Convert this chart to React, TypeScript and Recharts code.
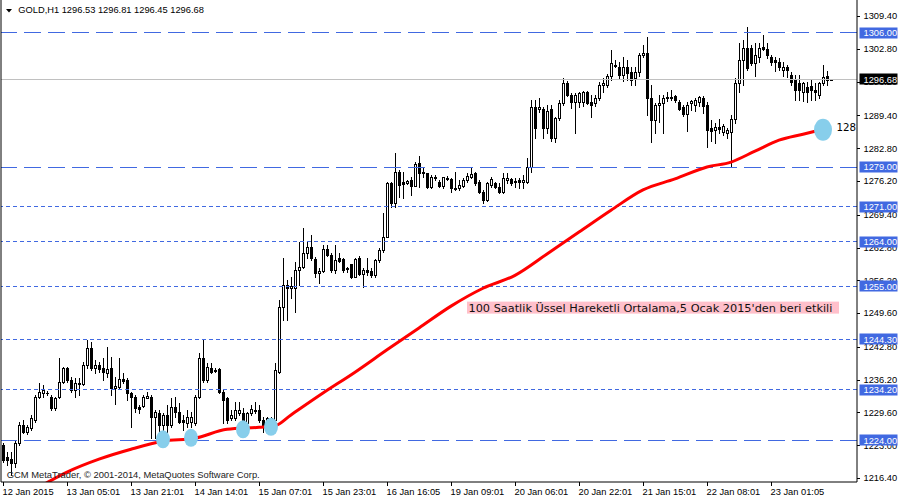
import { ComposedChart, Bar, Line, XAxis, YAxis, ReferenceLine, ReferenceDot } from 'recharts';

// GOLD H1 candles (oldest first)
const opens = [
  1223.0, 1220.6, 1220.3, 1219.4, 1223.4, 1227.1, 1225.6, 1226.5, 1228.1, 1232.7,
  1233.5, 1233.5, 1232.7, 1230.5, 1232.7, 1235.7, 1238.5, 1236.1, 1234.1, 1235.5,
  1235.3, 1239.1, 1242.6, 1238.5, 1239.1, 1238.5, 1237.5, 1238.5, 1234.5, 1234.7,
  1236.3, 1236.1, 1233.5, 1232.7, 1230.7, 1230.9, 1232.5, 1232.7, 1228.7, 1229.5,
  1227.1, 1229.1, 1227.1, 1230.7, 1229.7, 1228.1, 1227.5, 1227.7, 1227.5, 1232.7,
  1240.5, 1236.1, 1238.5, 1238.1, 1238.3, 1233.7, 1232.5, 1228.5, 1228.5, 1229.5,
  1229.5, 1227.5, 1229.5, 1230.1, 1230.1, 1228.1, 1227.5, 1227.7, 1228.1, 1237.7,
  1250.8, 1255.2, 1254.6, 1254.6, 1258.3, 1258.9, 1261.7, 1262.9, 1260.5, 1257.7,
  1258.1, 1262.5, 1261.3, 1258.3, 1260.7, 1260.5, 1258.7, 1259.5, 1256.9, 1260.7,
  1257.5, 1258.3, 1258.1, 1257.3, 1260.3, 1262.3, 1264.9, 1275.8, 1271.8, 1278.0,
  1276.0, 1275.8, 1276.4, 1275.2, 1279.8, 1278.0, 1277.8, 1275.0, 1277.0, 1276.0,
  1275.2, 1276.8, 1276.6, 1274.8, 1274.8, 1275.2, 1276.4, 1277.0, 1277.8, 1276.0,
  1274.0, 1272.4, 1275.4, 1275.8, 1275.0, 1274.0, 1276.4, 1276.6, 1276.2, 1276.4,
  1276.0, 1276.0, 1279.0, 1291.1, 1290.7, 1290.7, 1286.9, 1290.7, 1284.8, 1288.9,
  1291.9, 1295.9, 1293.5, 1292.1, 1292.1, 1292.1, 1294.1, 1292.1, 1291.9, 1292.9,
  1295.5, 1295.5, 1297.3, 1299.5, 1299.1, 1297.5, 1299.1, 1298.1, 1296.9, 1298.1,
  1301.5, 1301.9, 1292.9, 1288.5, 1291.5, 1291.9, 1292.9, 1293.1, 1293.3, 1292.1,
  1291.1, 1289.7, 1291.9, 1291.5, 1292.1, 1292.9, 1291.5, 1286.9, 1286.5, 1287.0,
  1286.1, 1285.8, 1286.1, 1288.7, 1295.9, 1300.5, 1303.0, 1303.0, 1299.9, 1301.1,
  1303.2, 1302.8, 1301.1, 1300.5, 1300.1, 1298.5, 1299.1, 1297.5, 1296.5, 1295.9,
  1294.1, 1295.1, 1295.3, 1294.5, 1293.5, 1295.9, 1297.3, 1296.53,
];

const highs = [
  1223.4, 1221.6, 1221.6, 1224.0, 1227.7, 1228.1, 1227.1, 1229.1, 1233.1, 1235.5,
  1235.1, 1233.9, 1233.1, 1232.7, 1240.5, 1238.7, 1238.7, 1236.7, 1236.5, 1236.5,
  1239.7, 1244.2, 1243.8, 1240.1, 1239.7, 1240.5, 1242.8, 1240.7, 1236.7, 1240.5,
  1237.5, 1236.5, 1233.7, 1233.1, 1231.1, 1233.1, 1233.7, 1233.1, 1230.1, 1230.1,
  1229.5, 1231.1, 1232.5, 1232.7, 1231.5, 1229.1, 1230.1, 1229.7, 1233.1, 1241.5,
  1244.2, 1239.5, 1239.5, 1238.5, 1238.5, 1234.1, 1232.7, 1230.1, 1231.7, 1231.7,
  1230.5, 1229.7, 1231.1, 1231.7, 1231.1, 1228.7, 1228.7, 1228.7, 1239.5, 1252.2,
  1260.7, 1256.2, 1256.9, 1259.9, 1263.9, 1266.7, 1263.9, 1265.3, 1260.9, 1258.7,
  1263.3, 1263.3, 1261.7, 1263.3, 1261.7, 1260.7, 1258.9, 1259.5, 1260.7, 1261.1,
  1258.7, 1260.7, 1258.7, 1260.5, 1262.7, 1269.7, 1276.0, 1276.0, 1281.8, 1278.4,
  1278.0, 1276.4, 1277.0, 1280.0, 1281.2, 1278.8, 1277.8, 1277.4, 1277.4, 1276.4,
  1277.0, 1277.2, 1276.8, 1278.0, 1276.4, 1276.8, 1277.8, 1278.8, 1278.0, 1276.4,
  1274.4, 1276.0, 1277.0, 1276.0, 1275.8, 1277.8, 1277.8, 1276.8, 1276.8, 1276.8,
  1277.4, 1280.8, 1292.5, 1292.5, 1292.9, 1291.1, 1291.5, 1291.5, 1289.1, 1292.5,
  1296.9, 1296.3, 1293.9, 1293.9, 1294.1, 1294.3, 1294.3, 1293.5, 1293.5, 1296.1,
  1296.9, 1297.7, 1302.6, 1300.5, 1300.1, 1301.1, 1300.5, 1299.1, 1299.1, 1301.9,
  1303.6, 1305.2, 1295.5, 1291.9, 1293.5, 1293.5, 1294.1, 1294.5, 1293.5, 1292.5,
  1291.5, 1292.1, 1292.5, 1292.9, 1293.3, 1293.3, 1292.1, 1288.5, 1287.9, 1288.7,
  1287.7, 1286.9, 1289.5, 1296.9, 1304.0, 1304.6, 1307.2, 1303.6, 1304.0, 1304.0,
  1305.6, 1304.0, 1301.5, 1301.1, 1300.9, 1300.1, 1299.5, 1298.1, 1297.5, 1297.5,
  1296.1, 1296.1, 1296.5, 1295.9, 1296.1, 1299.5, 1298.3, 1296.81,
];

const lows = [
  1219.6, 1219.0, 1217.0, 1218.6, 1223.0, 1225.4, 1225.2, 1226.0, 1227.7, 1232.5,
  1232.7, 1233.1, 1230.1, 1230.1, 1232.5, 1235.5, 1235.7, 1233.7, 1232.7, 1233.1,
  1235.1, 1238.5, 1238.1, 1237.5, 1237.7, 1236.1, 1236.7, 1233.1, 1231.3, 1234.5,
  1235.5, 1232.1, 1226.7, 1229.7, 1229.5, 1230.7, 1232.5, 1224.4, 1224.4, 1225.4,
  1225.4, 1225.0, 1226.7, 1228.7, 1227.5, 1226.0, 1226.7, 1226.7, 1227.1, 1232.5,
  1235.7, 1235.7, 1237.5, 1237.7, 1233.5, 1227.5, 1227.5, 1228.1, 1228.1, 1229.1,
  1226.5, 1227.1, 1229.1, 1229.5, 1227.7, 1225.6, 1226.0, 1226.7, 1227.7, 1237.5,
  1248.2, 1248.2, 1252.6, 1249.8, 1255.2, 1258.7, 1260.7, 1260.3, 1256.9, 1255.6,
  1257.9, 1261.1, 1257.9, 1257.7, 1259.9, 1257.9, 1257.9, 1256.7, 1256.9, 1257.3,
  1254.8, 1257.3, 1256.9, 1256.9, 1259.9, 1261.9, 1264.9, 1271.0, 1271.0, 1273.0,
  1272.8, 1275.6, 1273.3, 1275.2, 1275.0, 1277.0, 1274.8, 1274.8, 1276.4, 1275.0,
  1274.8, 1276.4, 1274.0, 1274.4, 1274.4, 1275.0, 1276.0, 1276.8, 1275.4, 1273.8,
  1271.8, 1272.2, 1275.0, 1274.8, 1273.8, 1273.8, 1275.8, 1275.4, 1275.0, 1274.8,
  1274.8, 1275.8, 1278.0, 1284.8, 1290.1, 1284.8, 1285.8, 1284.2, 1284.0, 1288.5,
  1291.5, 1293.3, 1290.9, 1285.8, 1291.1, 1291.3, 1291.7, 1289.1, 1291.3, 1292.5,
  1294.1, 1295.1, 1296.5, 1299.1, 1296.9, 1296.3, 1296.5, 1295.5, 1295.5, 1297.3,
  1301.1, 1289.5, 1284.0, 1285.8, 1288.1, 1285.8, 1292.3, 1292.5, 1292.1, 1290.5,
  1289.3, 1286.3, 1290.5, 1290.3, 1291.3, 1289.9, 1283.0, 1284.2, 1283.8, 1285.8,
  1285.4, 1284.8, 1279.0, 1287.9, 1294.1, 1295.5, 1298.5, 1299.5, 1297.3, 1300.1,
  1302.6, 1300.9, 1299.5, 1298.3, 1298.5, 1297.3, 1297.1, 1295.5, 1292.5, 1292.5,
  1292.3, 1292.1, 1292.5, 1292.5, 1292.9, 1295.5, 1295.5, 1296.45,
];

const closes = [
  1220.0, 1220.0, 1219.4, 1223.4, 1227.1, 1225.6, 1226.7, 1228.5, 1232.7, 1233.7,
  1234.1, 1233.6, 1230.5, 1232.5, 1235.7, 1238.5, 1236.1, 1234.1, 1235.5, 1235.3,
  1239.1, 1242.6, 1238.5, 1239.1, 1238.3, 1237.7, 1238.3, 1234.5, 1234.9, 1236.3,
  1235.9, 1233.5, 1232.7, 1230.5, 1230.3, 1232.7, 1232.9, 1228.7, 1229.7, 1227.1,
  1229.1, 1227.1, 1230.7, 1229.7, 1227.7, 1227.7, 1228.7, 1228.7, 1232.7, 1240.5,
  1236.1, 1238.7, 1237.7, 1237.9, 1233.7, 1232.1, 1228.1, 1229.1, 1230.1, 1230.1,
  1227.5, 1229.5, 1230.3, 1229.9, 1228.1, 1227.1, 1228.5, 1228.5, 1238.1, 1250.8,
  1255.2, 1254.6, 1255.0, 1258.3, 1258.9, 1261.7, 1262.9, 1260.7, 1257.7, 1258.1,
  1262.5, 1261.3, 1258.3, 1260.3, 1260.1, 1258.3, 1258.5, 1256.9, 1260.5, 1257.5,
  1258.3, 1257.9, 1257.3, 1260.3, 1262.3, 1264.9, 1275.8, 1271.8, 1278.0, 1275.4,
  1275.6, 1276.2, 1275.2, 1279.6, 1277.8, 1277.8, 1275.0, 1277.0, 1276.8, 1275.2,
  1277.0, 1276.6, 1274.8, 1274.6, 1275.4, 1276.4, 1277.2, 1277.6, 1275.8, 1274.0,
  1272.4, 1275.8, 1276.6, 1275.0, 1274.0, 1276.8, 1276.8, 1275.8, 1276.0, 1276.0,
  1276.4, 1279.0, 1291.1, 1286.9, 1291.1, 1286.9, 1290.3, 1284.8, 1288.9, 1291.9,
  1295.9, 1293.5, 1292.1, 1293.5, 1293.9, 1294.1, 1291.9, 1291.5, 1292.9, 1295.5,
  1295.9, 1297.3, 1299.9, 1299.3, 1297.5, 1299.1, 1297.9, 1296.5, 1298.1, 1301.5,
  1301.9, 1292.9, 1288.5, 1291.5, 1291.9, 1292.9, 1293.1, 1292.9, 1292.5, 1290.7,
  1289.7, 1291.5, 1292.3, 1292.5, 1293.1, 1291.3, 1286.5, 1286.3, 1287.1, 1286.7,
  1287.3, 1286.5, 1288.7, 1295.9, 1300.5, 1303.0, 1298.9, 1299.9, 1301.5, 1303.0,
  1302.8, 1301.5, 1300.1, 1300.1, 1299.1, 1299.1, 1298.5, 1296.1, 1294.5, 1294.5,
  1295.9, 1294.1, 1294.5, 1294.1, 1295.9, 1297.1, 1296.5, 1296.68,
];

// 100 EMA, read at a few bars
const emaBars = [0, 8, 16, 24, 32, 40, 48, 56, 64, 68, 72, 80, 88, 96, 104, 112, 120, 128, 136, 144, 152, 160, 168, 176, 182, 188, 194, 200, 207];
const emaValues = [1211.4, 1214.2, 1217.6, 1220.2, 1222.2, 1223.8, 1224.4, 1226.2, 1226.6, 1226.9, 1229.1, 1233.5, 1237.7, 1242.2, 1246.6, 1251.0, 1254.6, 1257.2, 1261.5, 1265.9, 1270.3, 1274.4, 1276.6, 1279.0, 1280.0, 1282.2, 1284.4, 1285.6, 1287.0];

const timeLabels = ['12 Jan 2015', '13 Jan 05:01', '13 Jan 21:01', '14 Jan 14:01', '15 Jan 07:01', '15 Jan 23:01', '16 Jan 16:05', '19 Jan 09:01', '20 Jan 06:01', '20 Jan 22:01', '21 Jan 15:01', '22 Jan 08:01', '23 Jan 01:05'];
const barsPerLabel = 16;

const priceTicks = [1309.4, 1302.8, 1296.2, 1289.4, 1282.8, 1276.2, 1269.4, 1262.8, 1256.2, 1249.6, 1242.8, 1236.2, 1229.6, 1223.0, 1216.4];
const dashLevels = [1306.0, 1279.0, 1224.0];
const dotLevels = [1271.0, 1264.0, 1255.0, 1244.3, 1234.2];
const lastPrice = 1296.68;

const touchBars = [40, 47, 60, 67, 205];
const touchPrices = [1224.2, 1224.5, 1226.2, 1226.7, 1286.5];

const noteText = "100 Saatlik Üssel Hareketli Ortalama,5 Ocak 2015'den beri etkili";
const noteBar = 116;
const notePrice = 1250.7;
const sideText = '128';
const sideBar = 208;
const sidePrice = 1287.0;

const title = 'GOLD,H1  1296.53 1296.81 1296.45 1296.68';
const copyright = 'GCM MetaTrader, © 2001-2014, MetaQuotes Software Corp.';

const SLOTS = 214; // 208 bars + empty shift on the right
const LEVEL_BLUE = '#4169e1';
const UI_FONT = '"Liberation Sans", Arial, sans-serif';

const emaByBar = new Map(emaBars.map((b, k) => [b, emaValues[k]]));

const rows = Array.from({ length: SLOTS }, (_, i) =>
  i < opens.length
    ? { i, o: opens[i], h: highs[i], l: lows[i], c: closes[i], range: [lows[i], highs[i]], ema: emaByBar.get(i) ?? null }
    : { i }
);

function Candle(props: any) {
  const { x, y, width, height, payload } = props;
  if (payload == null || payload.o == null) return null;
  const { o, h, l, c } = payload;
  const yTop = Math.min(y, y + height);
  const span = Math.abs(height);
  const toY = (v: number) => (h - l > 0 ? yTop + ((h - v) / (h - l)) * span : yTop);
  const left = Math.round(x + width / 2 - 1.5);
  const wickTop = Math.round(yTop);
  const wickBot = Math.round(yTop + span);
  const top = Math.round(toY(Math.max(o, c)));
  const bot = Math.round(toY(Math.min(o, c)));
  const up = c >= o;
  return (
    <g shapeRendering="crispEdges">
      <rect x={left + 1} y={wickTop} width={1} height={Math.max(1, wickBot - wickTop + 1)} fill="#000" />
      {bot - top < 1 ? (
        <rect x={left} y={top} width={3} height={1} fill="#000" />
      ) : up ? (
        <rect x={left + 0.5} y={top + 0.5} width={2} height={bot - top} fill="#fff" stroke="#000" strokeWidth={1} />
      ) : (
        <rect x={left} y={top} width={3} height={bot - top + 1} fill="#000" />
      )}
    </g>
  );
}

function TimeTick(props: any) {
  const { x, y, payload } = props;
  const label = timeLabels[Math.round(payload.value / barsPerLabel)];
  const px = Math.round(x) + 0.5;
  return (
    <g>
      <line x1={px} x2={px} y1={y} y2={y + 4} stroke="#000" />
      <text x={x - 0.5} y={y + 13} fontFamily={UI_FONT} fontSize={9.3} fill="#000" textAnchor="start">
        {label}
      </text>
    </g>
  );
}

function PriceTick(props: any) {
  const { x, y, payload } = props;
  const v = payload.value;
  const isLast = v === lastPrice;
  const isLevel = dashLevels.includes(v) || dotLevels.includes(v);
  const label = v.toFixed(2);
  if (isLast || isLevel) {
    return (
      <g>
        <rect x={x + 2.5} y={Math.round(y) - 5.5} width={38} height={11} fill={isLast ? '#000' : LEVEL_BLUE} />
        <text x={x + 6.5} y={y + 3.4} fontFamily={UI_FONT} fontSize={9.3} fill="#fff">
          {label}
        </text>
      </g>
    );
  }
  const py = Math.round(y) + 0.5;
  return (
    <g>
      <line x1={x} x2={x + 3} y1={py} y2={py} stroke="#000" />
      <text x={x + 6.5} y={y + 3.4} fontFamily={UI_FONT} fontSize={9.3} fill="#000">
        {label}
      </text>
    </g>
  );
}

export default function App() {
  return (
    <div style={{ position: 'absolute', left: 0, top: 0, width: 900, height: 500, background: '#fff' }}>
      <ComposedChart width={900} height={500} data={rows} margin={{ top: 0, right: 0, bottom: 0, left: 0 }}>
        <XAxis
          dataKey="i"
          type="category"
          ticks={timeLabels.map((_, k) => k * barsPerLabel)}
          interval={0}
          height={18}
          tickSize={0}
          tickMargin={0}
          tickLine={false}
          axisLine={{ stroke: '#000' }}
          tick={TimeTick}
        />
        <YAxis yAxisId="frame" orientation="left" width={1} domain={[0, 1]} tick={false} tickLine={false} axisLine={{ stroke: '#000' }} />
        <YAxis
          orientation="right"
          width={43}
          type="number"
          domain={[1215.6, 1312.62]}
          allowDataOverflow
          ticks={[...priceTicks, ...dotLevels, ...dashLevels, lastPrice]}
          interval={0}
          tickSize={0}
          tickMargin={0}
          tickLine={false}
          axisLine={{ stroke: '#000' }}
          tick={PriceTick}
        />
        {dotLevels.map((v) => (
          <ReferenceLine key={`d${v}`} y={v} stroke={LEVEL_BLUE} strokeDasharray="4 3" shapeRendering="crispEdges" />
        ))}
        {dashLevels.map((v) => (
          <ReferenceLine key={`l${v}`} y={v} stroke={LEVEL_BLUE} strokeDasharray="17 7" shapeRendering="crispEdges" />
        ))}
        <ReferenceLine y={lastPrice} stroke="#c0c0c0" shapeRendering="crispEdges" />
        {touchBars.map((b, k) => {
          const big = k === touchBars.length - 1;
          return (
            <ReferenceDot
              key={`t${b}`}
              x={b}
              y={touchPrices[k]}
              shape={(p: any) => <ellipse cx={p.cx} cy={p.cy} rx={big ? 9 : 7} ry={big ? 11 : 9} fill="#87ceeb" />}
            />
          );
        })}
        <Bar dataKey="range" barSize={3} shape={Candle} isAnimationActive={false} />
        <Line
          dataKey="ema"
          type="monotone"
          stroke="#ff0000"
          strokeWidth={3}
          dot={false}
          activeDot={false}
          connectNulls
          isAnimationActive={false}
        />
        <ReferenceDot
          x={noteBar}
          y={notePrice}
          shape={(p: any) => (
            <g>
              <rect x={p.cx} y={p.cy - 6} width={372} height={12} fill="#ffc0cb" />
              <text x={p.cx + 1.5} y={p.cy + 4} fontFamily='"DejaVu Sans", Verdana, sans-serif' fontSize={11.3} fill="#111">
                {noteText}
              </text>
            </g>
          )}
        />
        <ReferenceDot
          x={sideBar}
          y={sidePrice}
          shape={(p: any) => (
            <text x={p.cx + 1.5} y={p.cy + 4} fontFamily='"DejaVu Sans", Verdana, sans-serif' fontSize={10.3} fill="#000">
              {sideText}
            </text>
          )}
        />
      </ComposedChart>
      <svg width={900} height={500} style={{ position: 'absolute', left: 0, top: 0, pointerEvents: 'none' }}>
        <polygon points="6,9 12,9 9,12.5" fill="#000" />
        <text x={18.3} y={13.3} fontFamily={UI_FONT} fontSize={9.3} fill="#000">
          {title}
        </text>
        <text x={6.7} y={477.7} fontFamily={UI_FONT} fontSize={9.4} fill="#222">
          {copyright}
        </text>
      </svg>
    </div>
  );
}
